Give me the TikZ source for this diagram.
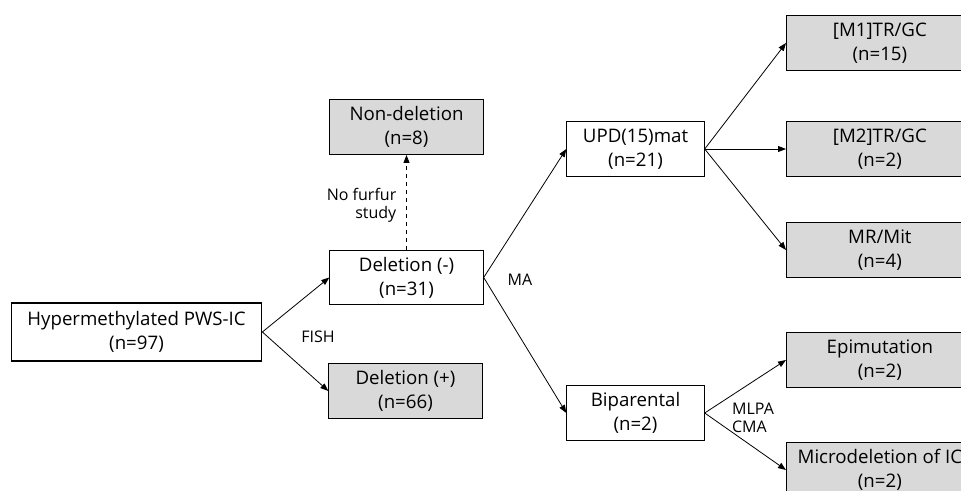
\documentclass[tikz,border=0pt]{standalone}
\usepackage{fontspec}
\setmainfont{Open Sans}
\usetikzlibrary{positioning, arrows.meta}
\definecolor{boxgray}{RGB}{217,217,217}

\begin{document}
\begin{tikzpicture}[x=0.75pt, y=-0.75pt,
  box/.style={rectangle, draw, line width=0.8pt, minimum height=41pt,
              inner sep=1pt, align=center, font=\fontsize{14}{18}\selectfont},
  res/.style={box, fill=boxgray, minimum width=140pt, anchor=west},
  arr/.style={-{Triangle[length=6pt,width=4.5pt]}, line width=0.6pt},
  lbl/.style={font=\fontsize{12}{13.5}\selectfont, align=center}
]
  \useasboundingbox (0,0) rectangle (961,491);

  \node[box, minimum width=188pt, minimum height=43.5pt] (root) at (136.5,332) {Hypermethylated PWS-IC\\(n=97)};
  \node[box, minimum width=115pt] (delneg) at (406.5,277.5) {Deletion (-)\\(n=31)};
  \node[box, fill=boxgray, minimum width=115pt, above=71pt of delneg] (nondel) {Non-deletion\\(n=8)};
  \node[box, fill=boxgray, minimum width=115pt] (delpos) at (405.5,391) {Deletion (+)\\(n=66)};

  \node[box, minimum width=103pt] (upd) at (635.5,149) {UPD(15)mat\\(n=21)};
  \node[box, minimum width=103pt] (bip) at (635.5,413) {Biparental\\(n=2)};

  \node[res] (mone) at (786,43) {[M1]TR/GC\\(n=15)};
  \node[res] (mtwo) at (786,149) {[M2]TR/GC\\(n=2)};
  \node[res] (mrmit) at (786,250) {MR/Mit\\(n=4)};
  \node[res] (epi) at (786,360) {Epimutation\\(n=2)};
  \node[res] (micro) at (786,470) {Microdeletion of IC\\(n=2)};

  \draw[arr] (root.east) -- (delneg.west);
  \draw[arr] (root.east) -- (delpos.west);
  \draw[arr, dashed] (delneg.north) -- (nondel.south);
  \draw[arr] (delneg.east) -- (upd.west);
  \draw[arr] (delneg.east) -- (bip.west);
  \draw[arr] (upd.east) -- (mone.west);
  \draw[arr] (upd.east) -- (mtwo.west);
  \draw[arr] (upd.east) -- (mrmit.west);
  \draw[arr] (bip.east) -- (epi.west);
  \draw[arr] (bip.east) -- (micro.west);

  \node[lbl] (fish) at (318,337) {FISH};
  \node[lbl, align=right, anchor=east] (nofur) at (401,205) {No furfur\\study};
  \node[lbl] (ma) at (520,280) {MA};
  \node[lbl, align=left] (mlpa) at (753,418) {MLPA\\CMA};
\end{tikzpicture}
\end{document}
